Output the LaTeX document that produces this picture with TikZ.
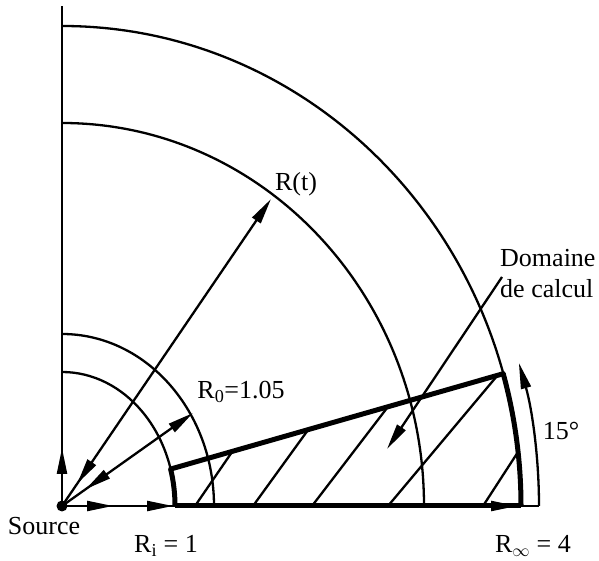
\documentclass[tikz,border=0pt]{standalone}
\usepackage{fontspec}
\setmainfont{Liberation Serif}
\usetikzlibrary{arrows.meta,calc}
\begin{document}
\begin{tikzpicture}[x=1pt,y=1pt,
  thinl/.style={line width=2.3pt},
  thickl/.style={line width=5pt},
  arr/.style={thinl,-{Triangle[length=26pt,width=10pt]}},
  lbl/.style={font=\fontsize{26}{31}\selectfont, inner sep=0pt}]
\useasboundingbox (0,0) rectangle (599,561);
\coordinate (O) at (62,55);
% axes
\draw[thinl] (O) -- (62,555) coordinate (ytop);
\coordinate (Xend) at (539,55);
\coordinate (Dbot) at (521,55);
\draw[thinl] (Dbot) -- (Xend);
% arcs
\draw[thinl] (175,55) arc[start angle=0,end angle=90,x radius=113pt,y radius=134pt];
\draw[thinl] (214,55) arc[start angle=0,end angle=90,x radius=152pt,y radius=172pt];
\draw[thinl] (424,55) arc[start angle=0,end angle=90,x radius=362pt,y radius=383pt];
\draw[thinl] (521,55) arc[start angle=0,end angle=90,x radius=459pt,y radius=480pt];
% domain corners
\coordinate (Ai) at ($(O)+(16:113pt and 134pt)$);
\coordinate (Ao) at ($(O)+(16:459pt and 480pt)$);
% arrows along axes
\draw[arr] (O) -- (517,55);
\draw[arr] (O) -- (173,55);
\draw[arr] (O) -- (113,55);
\draw[arr] (O) -- (62,113);
% domain boundary
\draw[thickl] (175,55) -- (Dbot);
\draw[thickl] (175,55) arc[start angle=0,end angle=16,x radius=113pt,y radius=134pt];
\draw[thickl,line cap=round] (Ai) -- (Ao);
\draw[thickl] (Dbot) arc[start angle=0,end angle=16,x radius=459pt,y radius=480pt];
% hatching
\draw[thinl] (195,55) -- (232,109);
\draw[thinl] (253,55) -- (308,131);
\draw[thinl] (312,55) -- (387,153);
\draw[thinl] (388,55) -- (497,185);
\draw[thinl] (483,55) -- (518,109);
% radii
\coordinate (Rt) at (271,362);
\coordinate (R0) at (193,148);
\draw[arr] (O) -- (Rt);
\draw[arr] ($(O)!50pt!(Rt)$) -- ($(O)!27pt!(Rt)$);
\draw[arr] (O) -- (R0);
\draw[arr] ($(O)!52pt!(R0)$) -- ($(O)!29pt!(R0)$);
% 15 deg arrow
\draw[arr] (Xend) arc[start angle=0,end angle=16.7,x radius=477pt,y radius=498pt];
% source dot
\fill (O) circle (5.5pt);
% labels
\node[lbl] (tRt) at (296,377) {R(t)};
\node[lbl] (tR0) at (241,169) {R\textsubscript{0}=1.05};
\node[lbl,align=left,anchor=west] (tDom) at (500,287) {Domaine\\de calcul};
\coordinate (lead) at (502,284);
\draw[arr] (lead) -- (387,112);
\node[lbl] (t15) at (561,130) {15°};
\node[lbl] (tSrc) at (44,35) {Source};
\node[lbl] (tRi) at (166,15) {R\textsubscript{i} = 1};
\node[lbl] (tRinf) at (533,15) {R\textsubscript{$\infty$} = 4};
\end{tikzpicture}
\end{document}
